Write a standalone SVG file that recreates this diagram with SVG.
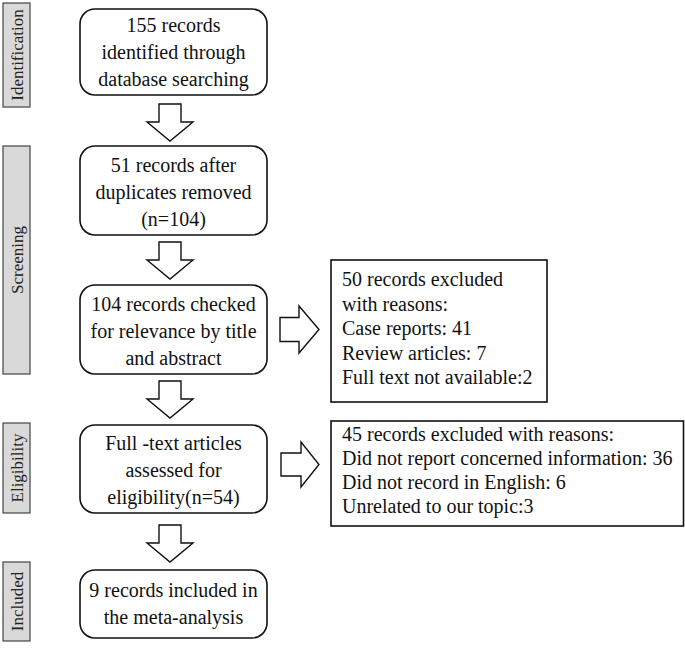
<svg xmlns="http://www.w3.org/2000/svg" width="685" height="651" viewBox="0 0 685 651">
<style>
.stage{fill:#d9d9d9;stroke:#444;stroke-width:1.2}
.stxt{font-size:17px;fill:#222;text-anchor:middle}
.box{fill:#fff;stroke:#111;stroke-width:1.6}
.t{font-size:20px;fill:#111}
.c{text-anchor:middle}
.arr{fill:#fff;stroke:#111;stroke-width:1.4;stroke-linejoin:miter}
</style>
<rect width="685" height="651" fill="#fff"/>
<g font-family="Liberation Serif, Tinos, Times New Roman, DejaVu Serif, serif">
<g id="stage-identification">
<rect class="stage" x="3" y="3" width="27" height="104"/>
<text class="stxt" transform="translate(22.5,55) rotate(-90)">Identification</text>
</g>
<g id="stage-screening">
<rect class="stage" x="3" y="146" width="27" height="228"/>
<text class="stxt" transform="translate(22.5,260) rotate(-90)">Screening</text>
</g>
<g id="stage-eligibility">
<rect class="stage" x="3" y="423" width="27" height="90"/>
<text class="stxt" transform="translate(22.5,468) rotate(-90)">Eligibility</text>
</g>
<g id="stage-included">
<rect class="stage" x="3" y="562" width="27" height="79"/>
<text class="stxt" transform="translate(22.5,601.5) rotate(-90)">Included</text>
</g>
<g id="n1">
<rect class="box" x="80" y="9" width="187" height="86" rx="15"/>
<text class="t c" x="173.5" y="32">155 records</text>
<text class="t c" x="173.5" y="59">identified through</text>
<text class="t c" x="173.5" y="86">database searching</text>
</g>
<g id="n2">
<rect class="box" x="80" y="146" width="187" height="89" rx="15"/>
<text class="t c" x="173.5" y="172">51 records after</text>
<text class="t c" x="173.5" y="199">duplicates removed</text>
<text class="t c" x="173.5" y="226">(n=104)</text>
</g>
<g id="n3">
<rect class="box" x="80" y="285" width="187" height="89" rx="15"/>
<text class="t c" x="173.5" y="311">104 records checked</text>
<text class="t c" x="173.5" y="338">for relevance by title</text>
<text class="t c" x="173.5" y="365">and abstract</text>
</g>
<g id="n4">
<rect class="box" x="80" y="425" width="187" height="88" rx="15"/>
<text class="t c" x="173.5" y="450">Full -text articles</text>
<text class="t c" x="173.5" y="477">assessed for</text>
<text class="t c" x="173.5" y="504">eligibility(n=54)</text>
</g>
<g id="n5">
<rect class="box" x="80" y="570" width="187" height="68" rx="15"/>
<text class="t c" x="173.5" y="597">9 records included in</text>
<text class="t c" x="173.5" y="624">the meta-analysis</text>
</g>
<g id="x1">
<rect class="box" x="331" y="260" width="216" height="142"/>
<text class="t" x="342" y="286">50 records excluded</text>
<text class="t" x="342" y="310.5">with reasons:</text>
<text class="t" x="342" y="335">Case reports: 41</text>
<text class="t" x="342" y="359.5">Review articles: 7</text>
<text class="t" x="342" y="384">Full text not available:2</text>
</g>
<g id="x2">
<rect class="box" x="331" y="421" width="352.5" height="105"/>
<text class="t" x="342" y="441">45 records excluded with reasons:</text>
<text class="t" x="342" y="465">Did not report concerned information: 36</text>
<text class="t" x="342" y="489">Did not record in English: 6</text>
<text class="t" x="342" y="513">Unrelated to our topic:3</text>
</g>
</g>
<g id="connectors">
<path class="arr" d="M159,104 H181 V122 H193 L170,141 L147,122 H159 Z"/>
<path class="arr" d="M159,242 H181 V260 H193 L170,279 L147,260 H159 Z"/>
<path class="arr" d="M159,381 H181 V399 H193 L170,418 L147,399 H159 Z"/>
<path class="arr" d="M159,525 H181 V543 H193 L170,562 L147,543 H159 Z"/>
<path class="arr" d="M280,317.5 H299 V306 L319,329.5 L299,353 V341.5 H280 Z"/>
<path class="arr" d="M281,453 H301 V442 L319,464.5 L301,487 V476 H281 Z"/>
</g>
</svg>
